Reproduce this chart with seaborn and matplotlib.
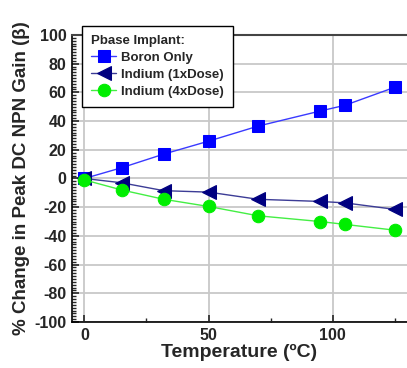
import pandas as pd
import matplotlib.pyplot as plt
import seaborn as sns
from matplotlib.ticker import MultipleLocator

# Data
temps = [0, 15, 32, 50, 70, 95, 105, 125]
boron_only = [0, 7.5, 17, 26, 36.5, 47, 51, 63.5]
indium_1x = [0, -3, -8.5, -9.5, -14.5, -16, -17, -21.5]
indium_4x = [-1, -8, -14.5, -19.5, -26, -30, -32, -36]

sns.set_style("ticks")
plt.rcParams['font.family'] = ['Liberation Sans', 'DejaVu Sans']
plt.rcParams['font.weight'] = 'bold'
plt.rcParams['axes.unicode_minus'] = False

fig = plt.figure(figsize=(4.07, 3.68), dpi=100)
ax = fig.add_axes([0.177, 0.125, 0.823, 0.78])

series = [
    ("Boron Only", boron_only, "s", "#0000ff", "#3a3aff"),
    ("Indium (1xDose)", indium_1x, "<", "#000080", "#3c3c96"),
    ("Indium (4xDose)", indium_4x, "o", "#00ee00", "#44ee44"),
]
for name, vals, mk, mcol, lcol in series:
    df = pd.DataFrame({"temp": temps, "change": vals})
    sns.lineplot(data=df, x="temp", y="change", ax=ax, color=lcol, lw=1.0,
                 marker=mk, markersize=9 if mk != "<" else 10,
                 markerfacecolor=mcol, markeredgecolor=mcol, label=name,
                 zorder=3)

ax.set_xlim(-5, 130)
ax.set_ylim(-100, 100)
ax.xaxis.set_major_locator(MultipleLocator(50))
ax.xaxis.set_minor_locator(MultipleLocator(25))
ax.yaxis.set_major_locator(MultipleLocator(20))
ax.yaxis.set_minor_locator(MultipleLocator(2))
ax.grid(True, which='major', color='#c8c8c8', lw=1.3, zorder=0)
ax.tick_params(which='major', direction='in', length=5, width=1.2,
               labelsize=11.5, pad=4)
ax.tick_params(which='minor', direction='in', length=3, width=1.0)

for side in ['left', 'bottom']:
    ax.spines[side].set_color('black')
    ax.spines[side].set_linewidth(1.2)
ax.spines['top'].set_color('#444444')
ax.spines['top'].set_linewidth(1.5)
ax.spines['right'].set_visible(False)

ax.set_xlabel("Temperature (ºC)", fontsize=14, fontweight='bold', labelpad=1)
ax.set_ylabel("% Change in Peak DC NPN Gain (β)", fontsize=13.5,
              fontweight='bold', labelpad=3)

leg = ax.legend(title="Pbase Implant:", loc='upper left',
                bbox_to_anchor=(82 / 407, 1 - 26 / 368),
                bbox_transform=fig.transFigure, borderaxespad=0,
                frameon=True, fancybox=False,
                edgecolor='black', framealpha=1, fontsize=9.5,
                title_fontproperties={'weight': 'bold', 'size': 9.5},
                alignment='left', handlelength=1.9, borderpad=0.7,
                labelspacing=0.35, handletextpad=0.35)
leg.get_frame().set_linewidth(1.0)
leg.set_zorder(10)
for t in leg.get_texts():
    t.set_fontweight('bold')

fig.canvas.draw()
plt.setp(ax.get_xticklabels() + ax.get_yticklabels(), fontweight='bold')

fig.savefig("out.png", dpi=100)
